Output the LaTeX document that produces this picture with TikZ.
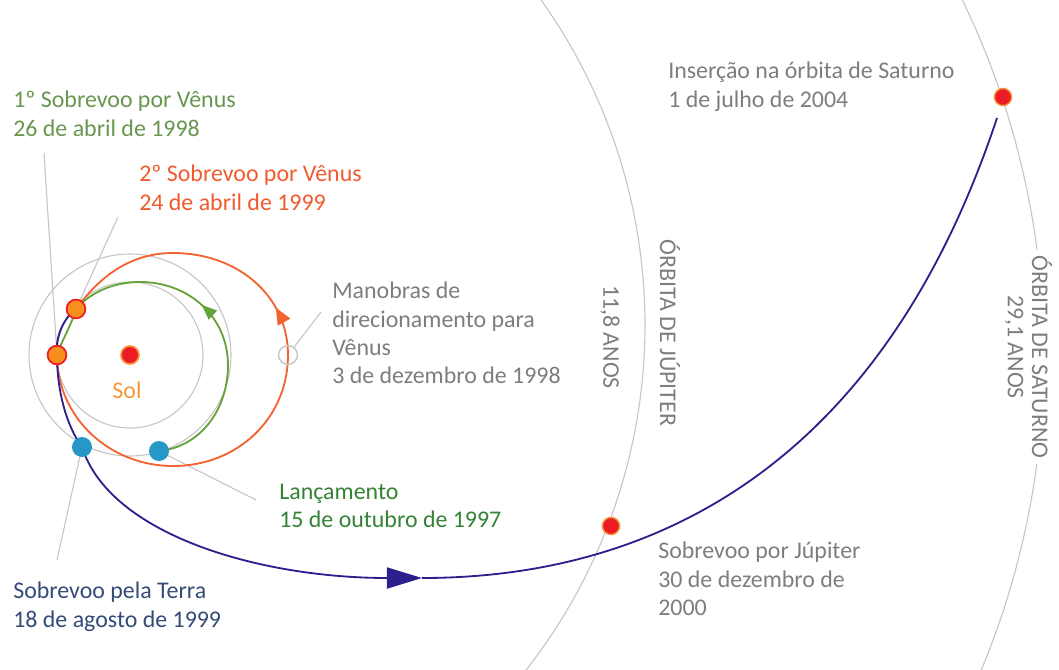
\documentclass[tikz,border=0pt]{standalone}
\usepackage{fontspec}
\setmainfont{Carlito}
\usetikzlibrary{arrows.meta,decorations.markings,backgrounds}

\definecolor{navy}{RGB}{43,32,140}
\definecolor{venusgreen}{RGB}{100,162,58}
\definecolor{textgreen}{RGB}{104,150,78}
\definecolor{darkgreen}{RGB}{52,130,52}
\definecolor{orbitorange}{RGB}{243,98,48}
\definecolor{labelorange}{RGB}{240,90,45}
\definecolor{greytext}{RGB}{125,125,125}
\definecolor{lightgrey}{RGB}{198,198,198}
\definecolor{earthblue}{RGB}{38,152,200}
\definecolor{earthtext}{RGB}{52,74,120}
\definecolor{sunred}{RGB}{236,28,36}
\definecolor{sunorange}{RGB}{247,150,55}
\definecolor{flybyorange}{RGB}{247,142,30}

\begin{document}
\begin{tikzpicture}[x=0.025cm,y=-0.025cm,font=\fontsize{17}{20}\selectfont]

  \useasboundingbox (0,0) rectangle (1059,670);

  % planets and events
  \begin{scope}[every node/.style={circle,inner sep=0pt,minimum size=0.45cm}]
    \node[fill=sunred,draw=sunorange,line width=1.2pt] (sol)   at (130,355) {};
    \node[fill=flybyorange,draw=sunred,line width=1.2pt,minimum size=0.47cm] (v1) at (57,355) {};
    \node[fill=flybyorange,draw=sunred,line width=1.2pt,minimum size=0.47cm] (v2) at (76,309) {};
    \node[fill=earthblue,minimum size=0.5cm] (terra) at (82,447) {};
    \node[fill=earthblue,minimum size=0.5cm] (lanc)  at (159,451) {};
    \node[draw=lightgrey,line width=1pt,minimum size=0.47cm] (dsm) at (288,355) {};
    \node[fill=sunred,draw=sunorange,line width=1pt,minimum size=0.43cm] (jup) at (611,526) {};
    \node[fill=sunred,draw=sunorange,line width=1pt,minimum size=0.43cm] (sat) at (1003,97) {};
  \end{scope}

  \coordinate (p1)  at (44,153);
  \coordinate (p2)  at (118,217);
  \coordinate (p3)  at (321,312);
  \coordinate (p4)  at (256,500);
  \coordinate (p5)  at (57,560);
  \coordinate (cruise) at (422,578);
  \coordinate (fim) at (997,118);

  % texts
  \begin{scope}[every node/.style={anchor=north west,align=left,inner sep=0pt}]
    \node[text=textgreen]   (t1) at (13,91)   {1º Sobrevoo por Vênus\\26 de abril de 1998};
    \node[text=labelorange] (t2) at (139,165) {2º Sobrevoo por Vênus\\24 de abril de 1999};
    \node[text=greytext]    (t3) at (332,282) {Manobras de\\direcionamento para\\Vênus\\3 de dezembro de 1998};
    \node[text=darkgreen]   (t4) at (279,484) {Lançamento\\15 de outubro de 1997};
    \node[text=earthtext]   (t5) at (13,582)  {Sobrevoo pela Terra\\18 de agosto de 1999};
    \node[text=greytext]    (t6) at (658,542) {Sobrevoo por Júpiter\\30 de dezembro de\\2000};
    \node[text=greytext]    (t7) at (668,62)  {Inserção na órbita de Saturno\\1 de julho de 2004};
  \end{scope}

  \node[text=sunorange] (sollbl) at (127,390) {Sol};

  \begin{scope}[every node/.style={rotate=-90,text=greytext}]
    \node (orbjup)  at (670,333) {ÓRBITA DE JÚPITER};
    \node (anosjup) at (610,337) {11,8 ANOS};
    \node[fill=white,inner sep=4pt] (orbsat) at (1042,357) {ÓRBITA DE SATURNO};
    \node (anossat) at (1014,347) {29,1 ANOS};
  \end{scope}

  \begin{scope}[on background layer]
    % orbits
    \begin{scope}[lightgrey,line width=0.8pt]
      \draw (sol) circle[radius=73];
      \draw (sol) circle[radius=101];
      \draw (85,325) ++(-36:560) arc[start angle=-36,end angle=40,radius=560];
      \draw (227,356) ++(-27:817) arc[start angle=-27,end angle=24,radius=817];
    \end{scope}

    % leaders
    \begin{scope}[lightgrey,line width=0.8pt]
      \draw (p1) -- (v1);
      \draw (p2) -- (v2);
      \draw (dsm) -- (p3);
      \draw (lanc) -- (p4);
      \draw (terra) -- (p5);
    \end{scope}

    % route
    \draw[orbitorange,line width=1.3pt,postaction={decorate},
      decoration={markings,mark=at position 0.63 with {\arrow{Triangle[length=0.42cm,width=0.35cm]}}}]
      (v1.center) .. controls (57,418) and (110,466) .. (173,466)
      .. controls (238,466) and (288,418) .. (dsm.center)
      .. controls (288,296) and (238,253) .. (173,253)
      .. controls (125,253) and (95,283) .. (v2.center);
    \draw[venusgreen,line width=1.3pt,postaction={decorate},
      decoration={markings,mark=at position 0.5 with {\arrow{Triangle[length=0.38cm,width=0.3cm]}}}]
      (lanc.center) .. controls (200,447) and (228,410) .. (228,365)
      .. controls (228,318) and (190,282) .. (140,282)
      .. controls (110,282) and (88,295) .. (v2.center)
      .. controls (72,324) and (62,340) .. (v1.center);
    \draw[navy,line width=1.3pt,-{Triangle[length=0.875cm,width=0.525cm]}]
      (v2.center) .. controls (64,318) and (55,336) .. (v1.center)
      .. controls (57,390) and (66,425) .. (terra.center)
      .. controls (110,535) and (260,578) .. (cruise);
    \draw[navy,line width=1.3pt] (cruise) .. controls (650,578) and (880,470) .. (fim);
  \end{scope}

\end{tikzpicture}
\end{document}
